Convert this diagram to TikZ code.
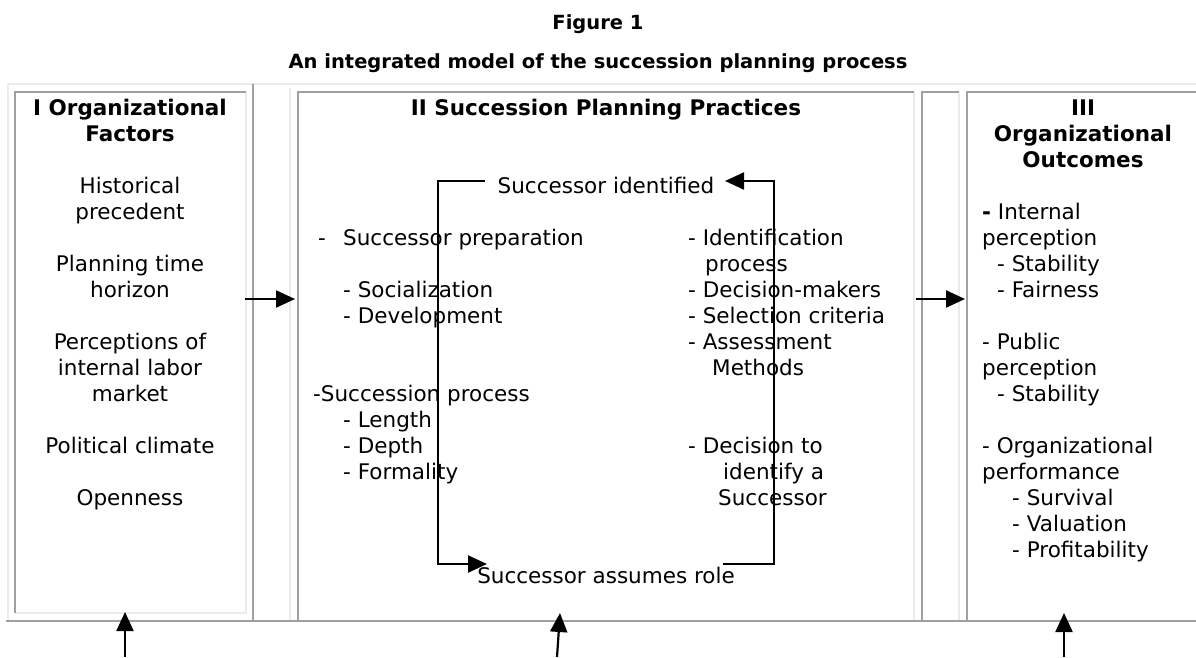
\documentclass[tikz,border=0pt]{standalone}
\usepackage{fontspec}
\setmainfont{DejaVu Sans}
\usetikzlibrary{arrows.meta}
\definecolor{rulegray}{HTML}{A0A0A0}
\definecolor{rulelight}{HTML}{EBEBEB}
\begin{document}
\begin{tikzpicture}[x=1pt,y=-1pt,
  txt/.style={font=\fontsize{21.5}{26}\selectfont, inner sep=0pt, anchor=base},
  ltxt/.style={txt, anchor=base west},
  btxt/.style={txt, font=\fontsize{21.5}{26}\selectfont\bfseries},
  caption/.style={inner sep=0pt, anchor=base, font=\fontsize{19.5}{24}\selectfont\bfseries},
  darkrule/.style={draw=rulegray, line width=1.6pt},
  lightrule/.style={draw=rulelight, line width=1.6pt},
  tip/.style={-{Triangle[length=19pt 0 0,width=17pt 0 0]}},
  conn/.style={draw=black, line width=2.2pt, tip},
  loopline/.style={draw=black, line width=2.2pt},
]
\useasboundingbox (0,0) rectangle (1196,657);

% ---------- captions ----------
\node[caption] (fig) at (598,29) {Figure 1};
\node[caption] (ttl) at (598,68) {An integrated model of the succession planning process};

% ---------- table frame ----------
\draw[lightrule] (8,84) -- (1196,84);
\draw[lightrule] (8,84) -- (8,621);
% column I
\draw[lightrule] (246,92) -- (246,613) -- (15,613);
\draw[darkrule] (15,613) -- (15,92) -- (246,92);
\draw[darkrule] (253,84) -- (253,621);
% spacer column
\draw[lightrule] (290,88) -- (290,621);
% column II
\draw[lightrule] (914,92) -- (914,621);
\draw[darkrule] (298,621) -- (298,92) -- (914,92);
% spacer column
\draw[lightrule] (959,92) -- (959,621);
\draw[darkrule] (922,621) -- (922,92) -- (959,92);
% column III
\draw[darkrule] (967,621) -- (967,92) -- (1196,92);
% bottom rule
\draw[darkrule] (6,621) -- (1196,621);

% ---------- I Organizational Factors ----------
\node[btxt] (f0) at (130,115) {I Organizational};
\node[btxt] (f1) at (130,141) {Factors};
\node[txt] (f3) at (130,193) {Historical};
\node[txt] (f4) at (130,219) {precedent};
\node[txt] (f6) at (130,271) {Planning time};
\node[txt] (f7) at (130,297) {horizon};
\node[txt] (f9) at (130,349) {Perceptions of};
\node[txt] (f10) at (130,375) {internal labor};
\node[txt] (f11) at (130,401) {market};
\node[txt] (f13) at (130,453) {Political climate};
\node[txt] (f15) at (130,505) {Openness};

% ---------- II Succession Planning Practices ----------
\node[btxt] (p0) at (606,115) {II Succession Planning Practices};
\node[txt] (sid) at (606,193) {Successor identified};
\node[txt] (sar) at (606,583) {Successor assumes role};

\node[ltxt] (pl5) at (318,245) {\makebox[25pt][l]{-}Successor preparation};
\node[ltxt] (pl7) at (343,297) {- Socialization};
\node[ltxt] (pl8) at (343,323) {- Development};
\node[ltxt] (pl11) at (313,401) {-Succession process};
\node[ltxt] (pl12) at (343,427) {- Length};
\node[ltxt] (pl13) at (343,453) {- Depth};
\node[ltxt] (pl14) at (343,479) {- Formality};

\node[ltxt] (pr5) at (688,245) {- Identification};
\node[ltxt] (pr6) at (705,271) {process};
\node[ltxt] (pr7) at (688,297) {- Decision-makers};
\node[ltxt] (pr8) at (688,323) {- Selection criteria};
\node[ltxt] (pr9) at (688,349) {- Assessment};
\node[ltxt] (pr10) at (712,375) {Methods};
\node[ltxt] (pr13) at (688,453) {- Decision to};
\node[ltxt] (pr14) at (723,479) {identify a};
\node[ltxt] (pr15) at (718,505) {Successor};

% succession cycle
\coordinate (cTL) at (485,181);
\coordinate (cBL) at (487,564);
\coordinate (cBR) at (723,564);
\coordinate (cTR) at (725,181);
\coordinate (cL) at (438,0);
\coordinate (cR) at (774,0);
\draw[loopline, tip] (cTL) -| (cL |- cBL) -- (cBL);
\draw[loopline, tip] (cBR) -| (cR |- cTR) -- (cTR);

% ---------- III Organizational Outcomes ----------
\node[btxt] (o0) at (1083,115) {III};
\node[btxt] (o1) at (1083,141) {Organizational};
\node[btxt] (o2) at (1083,167) {Outcomes};
\node[ltxt] (o4) at (982,219) {\textbf{-} Internal};
\node[ltxt] (o5) at (982,245) {perception};
\node[ltxt] (o6) at (997,271) {- Stability};
\node[ltxt] (o7) at (997,297) {- Fairness};
\node[ltxt] (o9) at (982,349) {- Public};
\node[ltxt] (o10) at (982,375) {perception};
\node[ltxt] (o11) at (997,401) {- Stability};
\node[ltxt] (o13) at (982,453) {- Organizational};
\node[ltxt] (o14) at (982,479) {performance};
\node[ltxt] (o15) at (1012,505) {- Survival};
\node[ltxt] (o16) at (1012,531) {- Valuation};
\node[ltxt] (o17) at (1012,557) {- Profitability};

% ---------- arrows between and into the columns ----------
\coordinate (aIout) at (245,299);
\coordinate (aIIin) at (295,299);
\coordinate (aIIout) at (916,299);
\coordinate (aIIIin) at (965,299);
\draw[conn] (aIout) -- (aIIin);
\draw[conn] (aIIout) -- (aIIIin);

\coordinate (bI) at (125,657);
\coordinate (bItip) at (125,612);
\coordinate (bII) at (557,657);
\coordinate (bIItip) at (560,613);
\coordinate (bIII) at (1064,657);
\coordinate (bIIItip) at (1064,613);
\draw[conn] (bI) -- (bItip);
\draw[conn] (bII) -- (bIItip);
\draw[conn] (bIII) -- (bIIItip);
\end{tikzpicture}
\end{document}
